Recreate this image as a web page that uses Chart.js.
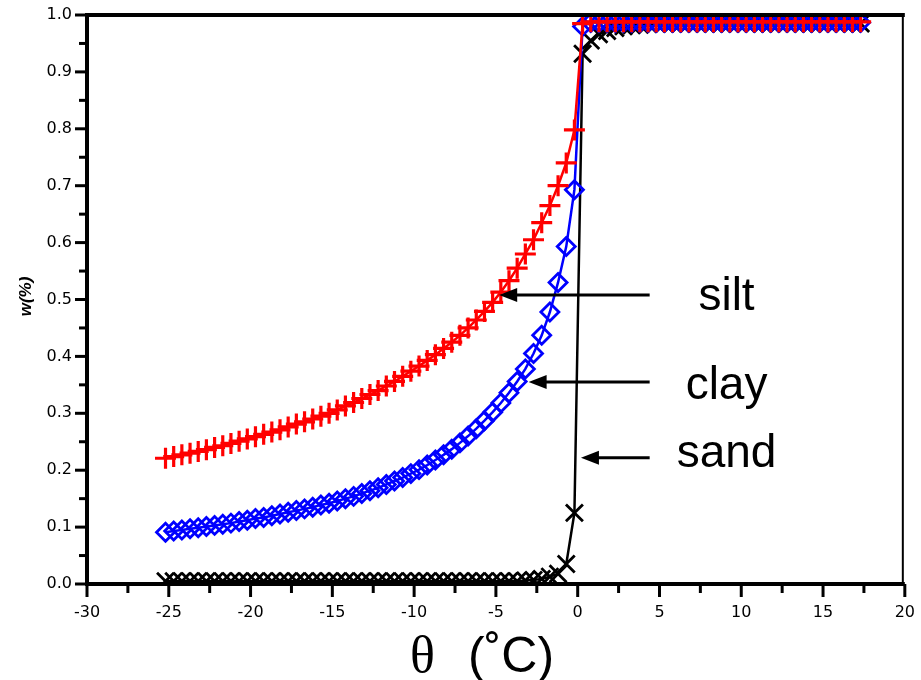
<!DOCTYPE html>
<html>
<head>
<meta charset="utf-8">
<script src="https://cdn.jsdelivr.net/npm/chart.js@4.4.1/dist/chart.umd.min.js"></script>
<style>
  html, body { margin: 0; padding: 0; background: #fff; }
  #wrap { width: 921px; height: 680px; }
</style>
</head>
<body>
<div id="wrap"><canvas id="chart" width="921" height="680"></canvas></div>
<script>
'use strict';

/* ── DATA ── */
const temps = [
  -25.2, -24.7, -24.2, -23.7, -23.2, -22.7, -22.2, -21.7, -21.2, -20.7,
  -20.2, -19.7, -19.2, -18.7, -18.2, -17.7, -17.2, -16.7, -16.2, -15.7,
  -15.2, -14.7, -14.2, -13.7, -13.2, -12.7, -12.2, -11.7, -11.2, -10.7,
  -10.2, -9.7, -9.2, -8.7, -8.2, -7.7, -7.2, -6.7, -6.2, -5.7,
  -5.2, -4.7, -4.2, -3.7, -3.2, -2.7, -2.2, -1.7, -1.2, -0.7,
  -0.2, 0.3, 0.8, 1.3, 1.8, 2.3, 2.8, 3.3, 3.8, 4.3,
  4.8, 5.3, 5.8, 6.3, 6.8, 7.3, 7.8, 8.3, 8.8, 9.3,
  9.8, 10.3, 10.8, 11.3, 11.8, 12.3, 12.8, 13.3, 13.8, 14.3,
  14.8, 15.3, 15.8, 16.3, 16.8, 17.3
];

const silt = [
  0.221, 0.224, 0.227, 0.230, 0.233, 0.236, 0.240, 0.243, 0.247, 0.251,
  0.255, 0.259, 0.263, 0.267, 0.271, 0.276, 0.281, 0.285, 0.290, 0.295,
  0.300, 0.306, 0.313, 0.319, 0.326, 0.333, 0.340, 0.348, 0.356, 0.365,
  0.374, 0.383, 0.393, 0.403, 0.414, 0.425, 0.437, 0.450, 0.464, 0.479,
  0.495, 0.513, 0.533, 0.555, 0.580, 0.605, 0.635, 0.665, 0.700, 0.740,
  0.798, 0.985, 0.988, 0.988, 0.988, 0.988, 0.988, 0.988, 0.988, 0.988,
  0.988, 0.988, 0.988, 0.988, 0.988, 0.988, 0.988, 0.988, 0.988, 0.988,
  0.988, 0.988, 0.988, 0.988, 0.988, 0.988, 0.988, 0.988, 0.988, 0.988,
  0.988, 0.988, 0.988, 0.988, 0.988, 0.988
];

const clay = [
  0.091, 0.093, 0.095, 0.097, 0.099, 0.101, 0.103, 0.105, 0.107, 0.110,
  0.112, 0.115, 0.117, 0.120, 0.123, 0.126, 0.129, 0.132, 0.135, 0.139,
  0.142, 0.146, 0.150, 0.154, 0.159, 0.164, 0.169, 0.175, 0.181, 0.187,
  0.194, 0.201, 0.209, 0.218, 0.227, 0.237, 0.248, 0.260, 0.273, 0.287,
  0.302, 0.318, 0.336, 0.356, 0.378, 0.405, 0.437, 0.478, 0.530, 0.593,
  0.693, 0.980, 0.987, 0.987, 0.987, 0.987, 0.987, 0.987, 0.987, 0.987,
  0.987, 0.987, 0.987, 0.987, 0.987, 0.987, 0.987, 0.987, 0.987, 0.987,
  0.987, 0.987, 0.987, 0.987, 0.987, 0.987, 0.987, 0.987, 0.987, 0.987,
  0.987, 0.987, 0.987, 0.987, 0.987, 0.987
];

const sand = [
  0.005, 0.005, 0.005, 0.005, 0.005, 0.005, 0.005, 0.005, 0.005, 0.005,
  0.005, 0.005, 0.005, 0.005, 0.005, 0.005, 0.005, 0.005, 0.005, 0.005,
  0.005, 0.005, 0.005, 0.005, 0.005, 0.005, 0.005, 0.005, 0.005, 0.005,
  0.005, 0.005, 0.005, 0.005, 0.005, 0.005, 0.005, 0.005, 0.005, 0.005,
  0.005, 0.005, 0.005, 0.005, 0.006, 0.007, 0.009, 0.013, 0.018, 0.035,
  0.125, 0.932, 0.955, 0.966, 0.972, 0.977, 0.980, 0.982, 0.983, 0.984,
  0.985, 0.985, 0.985, 0.985, 0.985, 0.985, 0.985, 0.985, 0.985, 0.985,
  0.985, 0.985, 0.985, 0.985, 0.985, 0.985, 0.985, 0.985, 0.985, 0.985,
  0.985, 0.985, 0.985, 0.985, 0.985, 0.985
];

// arrow annotations: label, arrow level (w), text level (w), arrow tip (θ)
const noteLabels = ['silt', 'clay', 'sand'];
const noteLevels = [0.508, 0.355, 0.222];
const noteTextLevels = [0.503, 0.348, 0.228];
const noteTips   = [-4.8, -3.0, 0.2];
const noteTail   = 4.4;
const noteTextX  = 9.1;

const xRange = [-30, 20];
const yRange = [0, 1];

/* ── HELPERS ── */
const toPoints = (ys) => temps.map((t, i) => ({ x: t, y: ys[i] }));
const isMajorX = (v) => Math.round(v * 10) % 50 === 0;
const isMajorY = (v) => Math.round(v * 100) % 10 === 0;

const tickFont = { family: "'DejaVu Sans', sans-serif", size: 16 };

/* ── FRAME, TICKS, TITLES AND ARROWS ── */
const framePlugin = {
  id: 'framePlugin',
  afterDatasetsDraw(chart) {
    const { ctx, chartArea: a, scales: { x, y } } = chart;
    ctx.save();
    ctx.strokeStyle = '#000';
    ctx.fillStyle = '#000';

    // tick marks (major longer than minor)
    ctx.lineWidth = 3;
    x.ticks.forEach(t => {
      const px = x.getPixelForValue(t.value);
      const len = isMajorX(t.value) ? 13 : 9;
      ctx.beginPath();
      ctx.moveTo(px, a.bottom);
      ctx.lineTo(px, a.bottom + len);
      ctx.stroke();
    });
    y.ticks.forEach(t => {
      const py = y.getPixelForValue(t.value);
      const len = isMajorY(t.value) ? 12 : 8;
      ctx.beginPath();
      ctx.moveTo(a.left, py);
      ctx.lineTo(a.left - len, py);
      ctx.stroke();
    });

    // frame
    ctx.lineWidth = 2;
    ctx.beginPath();
    ctx.moveTo(a.right - 2, a.top);
    ctx.lineTo(a.right - 2, a.bottom);
    ctx.stroke();
    ctx.lineWidth = 4;
    ctx.beginPath();
    ctx.moveTo(a.left, a.top);
    ctx.lineTo(a.right, a.top);
    ctx.moveTo(a.left, a.top - 2);
    ctx.lineTo(a.left, a.bottom + 2);
    ctx.moveTo(a.left - 2, a.bottom);
    ctx.lineTo(a.right, a.bottom);
    ctx.stroke();

    // arrows with labels
    ctx.lineWidth = 3;
    ctx.font = "46px 'Liberation Sans', Arial, sans-serif";
    ctx.textAlign = 'center';
    ctx.textBaseline = 'middle';
    noteLabels.forEach((label, i) => {
      const py = y.getPixelForValue(noteLevels[i]);
      const tip = x.getPixelForValue(noteTips[i]);
      const tail = x.getPixelForValue(noteTail);
      ctx.beginPath();
      ctx.moveTo(tail, py);
      ctx.lineTo(tip + 14, py);
      ctx.stroke();
      ctx.beginPath();
      ctx.moveTo(tip, py);
      ctx.lineTo(tip + 18, py - 7);
      ctx.lineTo(tip + 18, py + 7);
      ctx.closePath();
      ctx.fill();
      ctx.fillText(label, x.getPixelForValue(noteTextX), y.getPixelForValue(noteTextLevels[i]));
    });

    // y title
    ctx.save();
    ctx.translate(26, (a.top + a.bottom) / 2 - 3);
    ctx.rotate(-Math.PI / 2);
    ctx.font = "italic bold 17px 'Liberation Sans', Arial, sans-serif";
    ctx.fillText('w(%)', 0, 0);
    ctx.restore();

    // x title
    ctx.textBaseline = 'alphabetic';
    ctx.textAlign = 'left';
    ctx.font = "52px 'Liberation Serif', serif";
    ctx.fillText('θ', 410, 672);
    ctx.font = "50px 'Liberation Sans', Arial, sans-serif";
    ctx.fillText('(˚C)', 468, 672);

    ctx.restore();
  }
};

/* ── CHART ── */
const markerBase = { showLine: true, borderWidth: 2.5, pointBorderWidth: 2.5, pointBackgroundColor: 'rgba(0,0,0,0)' };

new Chart(document.getElementById('chart'), {
  type: 'scatter',
  data: {
    datasets: [
      { ...markerBase, label: 'silt', data: toPoints(silt), borderColor: '#ff0000', pointBorderColor: '#ff0000',
        pointStyle: 'cross', pointRadius: 10.5, pointBorderWidth: 3.2 },
      { ...markerBase, label: 'clay', data: toPoints(clay), borderColor: '#0000ff', pointBorderColor: '#0000ff',
        pointStyle: 'rectRot', pointRadius: 9, pointBorderWidth: 2.8 },
      { ...markerBase, label: 'sand', data: toPoints(sand), borderColor: '#000000', pointBorderColor: '#000000',
        pointStyle: 'crossRot', pointRadius: 12, pointBorderWidth: 2.8 },
    ],
  },
  options: {
    responsive: false,
    animation: false,
    layout: { padding: { top: 15, right: 11, left: 0, bottom: 0 } },
    plugins: {
      legend: { display: false },
      tooltip: { enabled: false },
    },
    scales: {
      x: {
        type: 'linear',
        min: xRange[0],
        max: xRange[1],
        afterFit(scale) { scale.height = 96; },
        border: { display: false },
        grid: { drawOnChartArea: false, drawTicks: true, tickLength: 13, tickColor: 'rgba(0,0,0,0)' },
        ticks: {
          stepSize: 2.5,
          autoSkip: false,
          maxRotation: 0,
          padding: 6,
          color: '#000',
          font: tickFont,
          callback: (v) => (isMajorX(v) ? String(Math.round(v)) : ''),
        },
      },
      y: {
        type: 'linear',
        min: yRange[0],
        max: yRange[1],
        afterFit(scale) { scale.width = 87; },
        border: { display: false },
        grid: { drawOnChartArea: false, drawTicks: true, tickLength: 12, tickColor: 'rgba(0,0,0,0)' },
        ticks: {
          stepSize: 0.05,
          autoSkip: false,
          padding: 3,
          color: '#000',
          font: tickFont,
          callback: (v) => (isMajorY(v) ? v.toFixed(1) : ''),
        },
      },
    },
  },
  plugins: [framePlugin],
});
</script>
</body>
</html>
